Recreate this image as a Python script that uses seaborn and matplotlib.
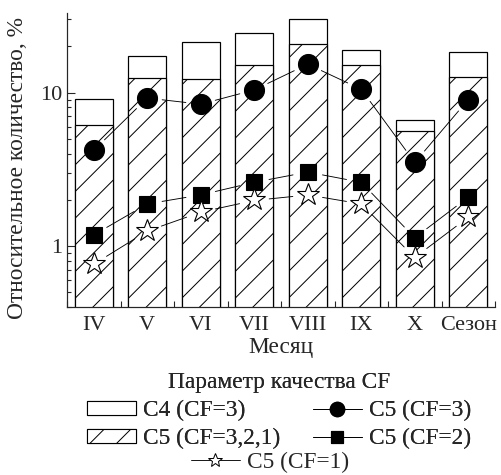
import numpy as np
import pandas as pd
import matplotlib
matplotlib.use("Agg")
import matplotlib.pyplot as plt
import seaborn as sns
from matplotlib.patches import Patch
from matplotlib.lines import Line2D

# data
months = ['IV', 'V', 'VI', 'VII', 'VIII', 'IX', 'X', 'Сезон']
c4_cf3 = [9.1, 17.3, 21.4, 24.3, 30.2, 19.0, 6.6, 18.5]      # whole bar
c5_all = [6.15, 12.5, 12.2, 15.1, 20.7, 15.1, 5.6, 12.7]     # hatched part
c5_cf3 = [4.2, 9.2, 8.4, 10.4, 15.3, 10.5, 3.5, 9.0]
c5_cf2 = [1.18, 1.88, 2.15, 2.6, 3.03, 2.6, 1.13, 2.08]
c5_cf1 = [0.76, 1.25, 1.66, 1.98, 2.15, 1.88, 0.84, 1.54]

sns.set_style("ticks")
plt.rcParams['font.family'] = ['Liberation Serif', 'DejaVu Serif']
plt.rcParams['hatch.linewidth'] = 0.9
FS_TICK = 20
FS = 21

DPI = 80
fig = plt.figure(figsize=(501 / DPI, 475 / DPI), dpi=DPI)
ax = fig.add_axes([67 / 501, 1 - 307 / 475, (495 - 67) / 501, (307 - 13) / 475])

df = pd.DataFrame({'month': months, 'c4': c4_cf3, 'c5': c5_all})

# bars: full height (white) then hatched C5 part on top
sns.barplot(data=df, x='month', y='c4', order=months, color='white',
            edgecolor='black', linewidth=1.1, width=0.71, errorbar=None,
            saturation=1, ax=ax)
sns.barplot(data=df, x='month', y='c5', order=months, color='white',
            edgecolor='black', linewidth=1.1, width=0.71, errorbar=None,
            saturation=1, hatch='/', ax=ax)
for p in ax.patches:
    p.set_facecolor('white')

ax.set_yscale('log')
ax.set_ylim(0.4, 33)
ax.set_xlim(-0.5, len(months) - 0.5)

x = np.arange(len(months))
series = [
    (c5_cf3, dict(marker='o', ms=18, mfc='black', mec='black')),
    (c5_cf2, dict(marker='s', ms=15, mfc='black', mec='black')),
    (c5_cf1, dict(marker='*', ms=21, mfc='white', mec='black', mew=1.0)),
]

# connecting lines stop short of the markers
gap = 15
for vals, style in series:
    pts = ax.transData.transform(np.column_stack([x, vals]))
    inv = ax.transData.inverted()
    for i in range(len(pts) - 1):
        p0, p1 = pts[i], pts[i + 1]
        u = (p1 - p0) / np.hypot(*(p1 - p0))
        seg = inv.transform(np.array([p0 + u * gap, p1 - u * gap]))
        ax.plot(seg[:, 0], seg[:, 1], color='black', lw=0.8, zorder=4)
    ax.plot(x, vals, ls='none', zorder=5, **style)

ax.set_yticks([1, 10])
ax.set_yticklabels(['1', '10'])
ax.set_xticks(x)
ax.set_xticklabels(months)
ax.set_xticks(np.arange(len(months) + 1) - 0.5, minor=True)
ax.tick_params(axis='both', which='both', direction='in', labelsize=FS_TICK, width=1)
ax.tick_params(axis='y', which='major', length=7, pad=4)
ax.tick_params(axis='y', which='minor', length=4)
ax.tick_params(axis='x', which='both', length=5, pad=8)
ax.yaxis.set_minor_formatter(matplotlib.ticker.NullFormatter())
for s in ['top', 'right']:
    ax.spines[s].set_visible(False)
for s in ['left', 'bottom']:
    ax.spines[s].set_linewidth(1.1)

ax.set_ylabel('')
ax.set_xlabel('Месяц', fontsize=FS, labelpad=2)
fig.text(18 / 501, 1 - 168 / 475, 'Относительное количество, %', rotation=90,
         ha='center', va='center', fontsize=FS)

# legend
h = [
    Patch(facecolor='white', edgecolor='black', linewidth=1.0),
    Patch(facecolor='white', edgecolor='black', linewidth=1.0, hatch='/'),
    Line2D([], [], color='black', lw=0.8, marker='o', ms=13),
    Line2D([], [], color='black', lw=0.8, marker='s', ms=11),
]
labels = ['C4 (CF=3)', 'C5 (CF=3,2,1)', 'C5 (CF=3)', 'C5 (CF=2)']
leg = fig.legend(h, labels, ncol=2, loc='upper center',
                 bbox_to_anchor=(279 / 501, 1 - 372 / 475), frameon=False,
                 title='Параметр качества CF', title_fontsize=FS, fontsize=FS,
                 handlelength=2.1, handleheight=0.5, handletextpad=0.3,
                 columnspacing=1.4, labelspacing=0.3, borderpad=0,
                 borderaxespad=0)
fig.add_artist(leg)
h2 = [Line2D([], [], color='black', lw=0.8, marker='*', ms=13, mfc='white',
             mec='black', mew=0.9)]
fig.legend(h2, ['C5 (CF=1)'], loc='upper center',
           bbox_to_anchor=(270 / 501, 1 - 452 / 475), frameon=False,
           fontsize=FS, handlelength=2.1, handletextpad=0.3, borderpad=0,
           borderaxespad=0)

fig.savefig('out.png', dpi=DPI)
